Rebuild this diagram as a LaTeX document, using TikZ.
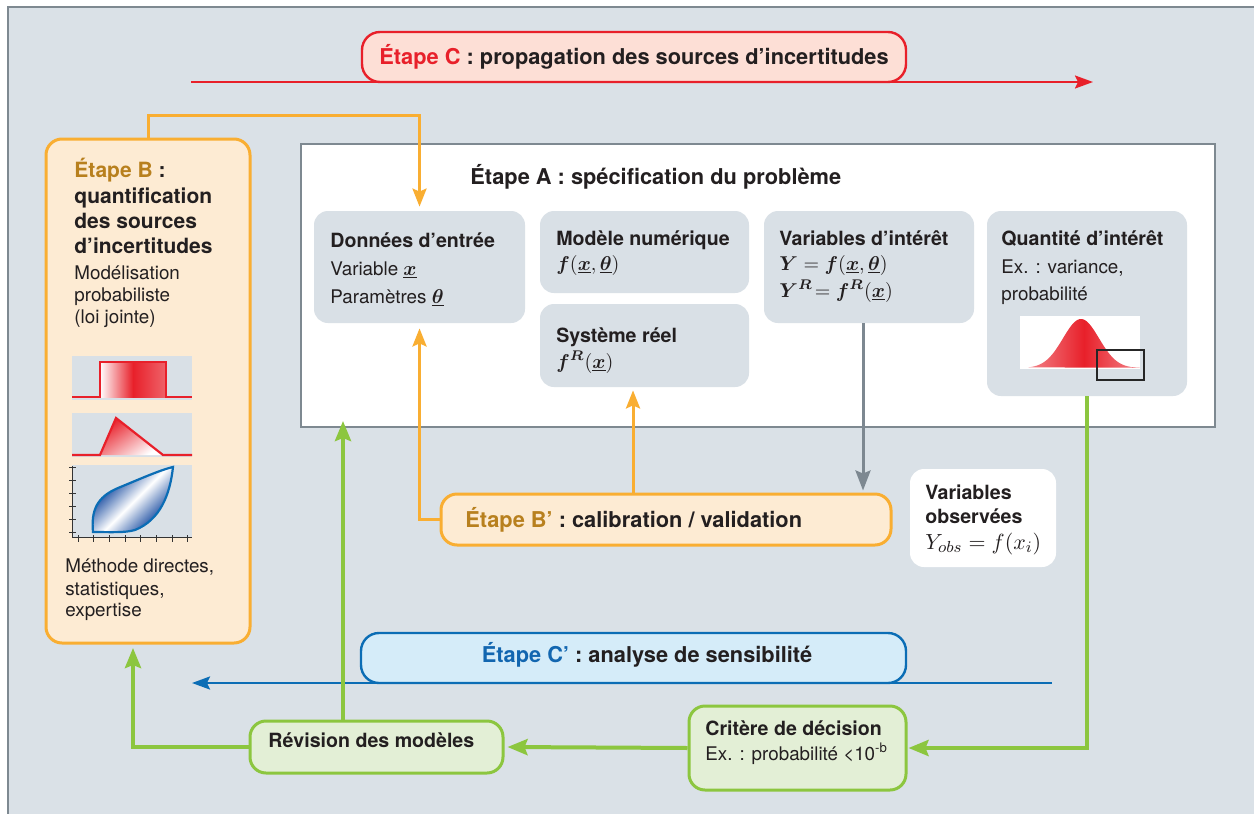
\documentclass[tikz,border=0pt]{standalone}
\usepackage{amsmath}
\usepackage{bm}
\usepackage{fontspec}
\setmainfont{TeX Gyre Heros}
\usetikzlibrary{arrows.meta,fit,calc}
\definecolor{bgc}{HTML}{DAE1E7}
\definecolor{frameg}{HTML}{7E8991}
\definecolor{redc}{HTML}{E8202A}
\definecolor{pinkf}{HTML}{FDDFD6}
\definecolor{orc}{HTML}{F9AE32}
\definecolor{orf}{HTML}{FDEBD3}
\definecolor{goldc}{HTML}{B8801E}
\definecolor{innerf}{HTML}{D9E0E6}
\definecolor{bluec}{HTML}{0B6DB5}
\definecolor{bluef}{HTML}{D5ECF9}
\definecolor{bluet}{HTML}{1266B0}
\definecolor{greenc}{HTML}{8CC63F}
\definecolor{greenf}{HTML}{E3EFD6}
\definecolor{txt}{HTML}{231F20}
\definecolor{grayar}{HTML}{7D8891}
\definecolor{plotbg}{HTML}{D9E0E6}
\definecolor{copb}{HTML}{2C5AA8}
\pgfdeclarehorizontalshading{copsh}{100bp}{color(0bp)=(copb); color(36bp)=(copb); color(50bp)=(white); color(64bp)=(copb); color(100bp)=(copb)}
\newcommand\fstep{\fontsize{10.9}{13}\selectfont\bfseries}
\newcommand\fbhead{\fontsize{10.5}{12}\selectfont\bfseries}
\newcommand\ftitle{\fontsize{9.8}{12}\selectfont\bfseries}
\newcommand\freg{\fontsize{9.4}{11}\selectfont}
\newcommand\fmath{\fontsize{10.2}{12}\selectfont}
\newcommand\fmathb{\fontsize{11}{13}\selectfont}
\begin{document}
\begin{tikzpicture}[x=0.5pt,y=-0.5pt,
  every node/.style={inner sep=0pt, text=txt},
  tx/.style={anchor=base west},
  txc/.style={anchor=base},
  stepred/.style={fill=pinkf, draw=redc, line width=1.2pt, rounded corners=9pt},
  stepor/.style={fill=orf, draw=orc, line width=1.5pt, rounded corners=8pt},
  stepblue/.style={fill=bluef, draw=bluec, line width=1.2pt, rounded corners=9pt},
  stepgreen/.style={fill=greenf, draw=greenc, line width=1.5pt, rounded corners=8pt},
  inbox/.style={fill=innerf, rounded corners=7pt},
  whitebox/.style={fill=white, rounded corners=7pt},
  framebox/.style={fill=white, draw=frameg, line width=1pt},
  oarr/.style={draw=orc, line width=1.5pt, -{Stealth[length=9pt,width=7pt,inset=1.5pt]}},
  garr/.style={draw=grayar, line width=1.5pt, -{Stealth[length=10pt,width=7.5pt,inset=1.5pt]}},
  grarr/.style={draw=greenc, line width=2pt, -{Stealth[length=10pt,width=8pt,inset=1.5pt]}},
  rarr/.style={draw=redc, line width=1pt, -{Stealth[length=9pt,width=6.5pt,inset=1.5pt]}},
  barr/.style={draw=bluec, line width=1.2pt, -{Stealth[length=9pt,width=6.5pt,inset=1.5pt]}},
]
\useasboundingbox (0,0) rectangle (1254,814);
\clip (0,0) rectangle (1254,814);
\fill[white] (0,0) rectangle (1254,814);
\path[fill=bgc, draw=frameg, line width=1pt] (8,7) rectangle (1280,840);

% coordinates
\coordinate (r1) at (191,82);
\coordinate (r2) at (1093,82);
\coordinate (bl1) at (1052,683);
\coordinate (bl2) at (192,683);

% arrows under boxes
\draw[rarr] (r1) -- (r2);

% Etape C
\node[stepred, fit={(362,32) (906,82)}] (C) {};
\node[txc, font=\fstep] (CT) at (634,64) {\textcolor{redc}{Étape C} : propagation des sources d’incertitudes};

% Etape A frame
\node[framebox, fit={(301,144) (1215,427)}] (A) {};
\node[tx, font=\fstep] (AT) at (470,184) {Étape A : spécification du problème};

% inner boxes
\node[inbox, fit={(314,211) (525,323)}] (don) {};
\node[tx, font=\ftitle] (donT) at (330,247) {Données d’entrée};
\node[tx, font=\freg] (donV) at (330,275) {Variable {\fmath$\underline{\bm{x}}$}};
\node[tx, font=\freg] (donP) at (330,303) {Paramètres {\fmath$\underline{\bm{\theta}}$}};

\node[inbox, fit={(540,211) (749,293)}] (mod) {};
\node[tx, font=\ftitle] (modT) at (556,245) {Modèle numérique};
\node[tx, font=\fmath] (modF) at (556,270) {$\bm{f}(\underline{\bm{x}},\underline{\bm{\theta}})$};

\node[inbox, fit={(540,304) (749,387)}] (sys) {};
\node[tx, font=\ftitle] (sysT) at (556,342) {Système réel};
\node[tx, font=\fmath] (sysF) at (556,368) {$\bm{f}^{\bm{R}}(\underline{\bm{x}})$};

\node[inbox, fit={(764,211) (974,323)}] (var) {};
\node[tx, font=\ftitle] (varT) at (779,245) {Variables d’intérêt};
\node[tx, font=\fmath] (varF) at (779,270) {$\bm{Y}=\bm{f}(\underline{\bm{x}},\underline{\bm{\theta}})$};
\node[tx, font=\fmath] (varG) at (779,297) {$\bm{Y}^{\bm{R}}\!=\bm{f}^{\bm{R}}(\underline{\bm{x}})$};

\node[inbox, fit={(987,211) (1187,396)}] (quant) {};
\node[tx, font=\ftitle] (quantT) at (1001,245) {Quantité d’intérêt};
\node[tx, font=\freg] (quantE) at (1001,273) {Ex. : variance,};
\node[tx, font=\freg] (quantP) at (1001,300) {probabilité};
% gaussian
\fill[white] (1020,316) rectangle (1140,369);
\shade[left color=white!45!redc, right color=white!45!redc, middle color=redc]
  plot[domain=1028:1140, samples=80, smooth] (\x, {368-49*exp(-((\x-1081)/18)^2/2)}) -- cycle;
\draw[black!85, line width=0.8pt] (1097,350) rectangle (1144,380);

% Etape B
\node[stepor, fit={(46,139) (250,643)}] (B) {};
\node[tx, font=\fbhead] (B1) at (74,177) {\textcolor{goldc}{Étape B} :};
\node[tx, font=\fbhead] (B2) at (74,203) {quantification};
\node[tx, font=\fbhead] (B3) at (74,228) {des sources};
\node[tx, font=\fbhead] (B4) at (74,253) {d’incertitudes};
\node[tx, font=\freg] (B5) at (74,279) {Modélisation};
\node[tx, font=\freg] (B6) at (74,301) {probabiliste};
\node[tx, font=\freg] (B7) at (74,323) {(loi jointe)};
\node[tx, font=\freg] (B8) at (65,572) {Méthode directes,};
\node[tx, font=\freg] (B9) at (65,595) {statistiques,};
\node[tx, font=\freg] (B10) at (65,616) {expertise};

% uniform plot
\fill[plotbg] (72,356) rectangle (192,400);
\shade[left color=white, right color=white!30!redc, middle color=redc] (100,362) rectangle (166,397);
\draw[redc, line width=1.1pt] (72,397) -- (100,397) -- (100,362) -- (166,362) -- (166,397) -- (192,397);
% triangle plot
\fill[plotbg] (72,413) rectangle (192,457);
\shade[top color=redc, bottom color=white, shading angle=35] (100,455) -- (116,418) -- (163,455) -- cycle;
\draw[redc, line width=1.1pt] (72,455) -- (100,455) -- (116,418) -- (163,455) -- (192,455);
% copula plot
\fill[plotbg] (72,465) rectangle (192,537);
\begin{scope}
\clip (93,532) .. controls (91,510) and (97,497) .. (118,488)
  .. controls (140,479) and (160,470) .. (173,467)
  .. controls (170,495) and (160,520) .. (135,530)
  .. controls (125,533) and (110,532) .. (93,532) -- cycle;
\shade[shading=copsh, shading angle=-45] (83,457) rectangle (183,547);
\end{scope}
\draw[bluec, line width=1.1pt]
  (93,532) .. controls (91,510) and (97,497) .. (118,488)
  .. controls (140,479) and (160,470) .. (173,467)
  .. controls (170,495) and (160,520) .. (135,530)
  .. controls (125,533) and (110,532) .. (93,532) -- cycle;
\draw[black!80, line width=0.5pt] (72,466) -- (72,537) -- (192,537);
\foreach \yy in {467,480,493,506,519,532} \draw[black!80, line width=0.5pt] (69,\yy) -- (76,\yy);
\foreach \xx in {78,93,109,125,140,156,172,187} \draw[black!80, line width=0.5pt] (\xx,535) -- (\xx,542);

% Etape B'
\node[stepor, fit={(441,494) (891,545)}] (Bp) {};
\node[tx, font=\fstep] (BpT) at (465,527) {\textcolor{goldc}{Étape B’} : calibration / validation};

% Variables observees
\node[whitebox, fit={(910,469) (1056,567)}] (obs) {};
\node[tx, font=\ftitle] (obs1) at (925,499) {Variables};
\node[tx, font=\ftitle] (obs2) at (925,523) {observées};
\node[tx, font=\fmathb] (obs3) at (925,549) {$Y_{obs}=f(x_i)$};

% Etape C'
\draw[barr] (bl1) -- (bl2);
\node[stepblue, fit={(361,633) (906,683)}] (Cp) {};
\node[txc, font=\fstep] (CpT) at (647,662) {\textcolor{bluet}{Étape C’} : analyse de sensibilité};

% green boxes
\node[stepgreen, fit={(250,721) (503,773)}] (rev) {};
\node[tx, font=\ftitle] (revT) at (268,747) {Révision des modèles};
\node[stepgreen, fit={(689,706) (906,790)}] (crit) {};
\node[tx, font=\ftitle] (critT) at (705,735) {Critère de décision};
\node[tx, font=\freg] (critE) at (705,760) {Ex. : probabilité <10\textsuperscript{-b}};

% connectors
\draw[oarr] (B.north) -- ++(0,-22) -| ([yshift=2pt]don.north);
\draw[oarr] (Bp.west) -| ([yshift=-2.5pt]don.south);
\coordinate (bpup) at (633,494);
\draw[oarr] (bpup) -- ([yshift=-1.5pt]bpup |- sys.south);
\coordinate (gv) at (863,323);
\draw[garr] (gv) -- ([yshift=1pt]gv |- Bp.north);
\draw[grarr] (quant.south) |- ([xshift=0.5pt]crit.east);
\draw[grarr] (crit.west) -- ([xshift=1.5pt]rev.east);
\coordinate (bbot) at (133,643);
\draw[grarr] (rev.west) -| ([yshift=-2.5pt]bbot);
\coordinate (rvt) at (343,721);
\draw[grarr] (rvt) -- ([yshift=3.5pt]rvt |- A.south);
\end{tikzpicture}
\end{document}
